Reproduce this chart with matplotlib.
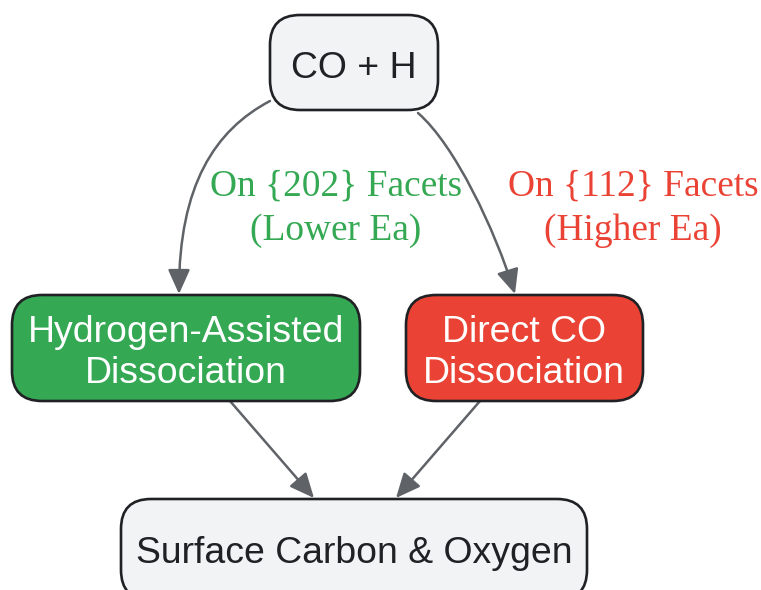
import matplotlib
matplotlib.use("Agg")
import matplotlib.pyplot as plt
from matplotlib.patches import FancyBboxPatch, FancyArrowPatch, ArrowStyle
from matplotlib.path import Path

# ---- content ----
node_labels = [
    ["CO + H"],
    ["Hydrogen-Assisted", "Dissociation"],
    ["Direct CO", "Dissociation"],
    ["Surface Carbon & Oxygen"],
]
edge_labels = [
    ["On {202} Facets", "(Lower Ea)"],
    ["On {112} Facets", "(Higher Ea)"],
]

# ---- layout (pixels, y downward) ----
node_boxes = [  # x0, y0, x1, y1
    (270, 15, 438, 110),
    (12, 295, 360, 401),
    (406, 295, 643, 401),
    (121, 499, 587, 600),
]
node_text_x = [354, 186, 524, 354]
node_baselines = [[78], [342, 383], [342, 383], [563]]
node_fill = ["#F1F3F4", "#34A853", "#EA4335", "#F1F3F4"]
node_textcol = ["#202124", "#FFFFFF", "#FFFFFF", "#202124"]

edge_label_x = [336, 633]
edge_label_baselines = [196, 240]
edge_label_col = ["#34A853", "#EA4335"]

arrow_col = "#5F6368"
border_col = "#202124"

W, H = 761, 590
fig = plt.figure(figsize=(W / 100, H / 100), dpi=100)
ax = fig.add_axes([0, 0, 1, 1])
ax.set_xlim(0, W)
ax.set_ylim(H, 0)
ax.axis("off")

for (x0, y0, x1, y1), fc in zip(node_boxes, node_fill):
    p = FancyBboxPatch((x0, y0), x1 - x0, y1 - y0,
                       boxstyle="round,pad=0,rounding_size=30",
                       fc=fc, ec=border_col, lw=1.9, zorder=2)
    ax.add_patch(p)

for lines, x, bls, col in zip(node_labels, node_text_x, node_baselines, node_textcol):
    for t, b in zip(lines, bls):
        ax.text(x, b, t, ha="center", va="baseline", color=col,
                fontsize=26.9, family="Liberation Sans", zorder=3)

for lines, x, col in zip(edge_labels, edge_label_x, edge_label_col):
    for t, b in zip(lines, edge_label_baselines):
        ax.text(x, b, t, ha="center", va="baseline", color=col,
                fontsize=26.9, family="Liberation Serif", zorder=3)

style = ArrowStyle("-|>", head_length=1.0, head_width=0.45)
paths = [
    Path([(270, 101), (215, 130), (179, 185), (179, 294)],
         [Path.MOVETO, Path.CURVE4, Path.CURVE4, Path.CURVE4]),
    Path([(418, 113), (455, 145), (495, 230), (515, 294)],
         [Path.MOVETO, Path.CURVE4, Path.CURVE4, Path.CURVE4]),
    Path([(230, 401), (314, 498)], [Path.MOVETO, Path.LINETO]),
    Path([(480, 401), (396, 498)], [Path.MOVETO, Path.LINETO]),
]
for pth in paths:
    a = FancyArrowPatch(path=pth, arrowstyle=style, mutation_scale=15,
                        color=arrow_col, lw=1.8, zorder=1)
    ax.add_patch(a)

fig.savefig("out.png", dpi=100)
